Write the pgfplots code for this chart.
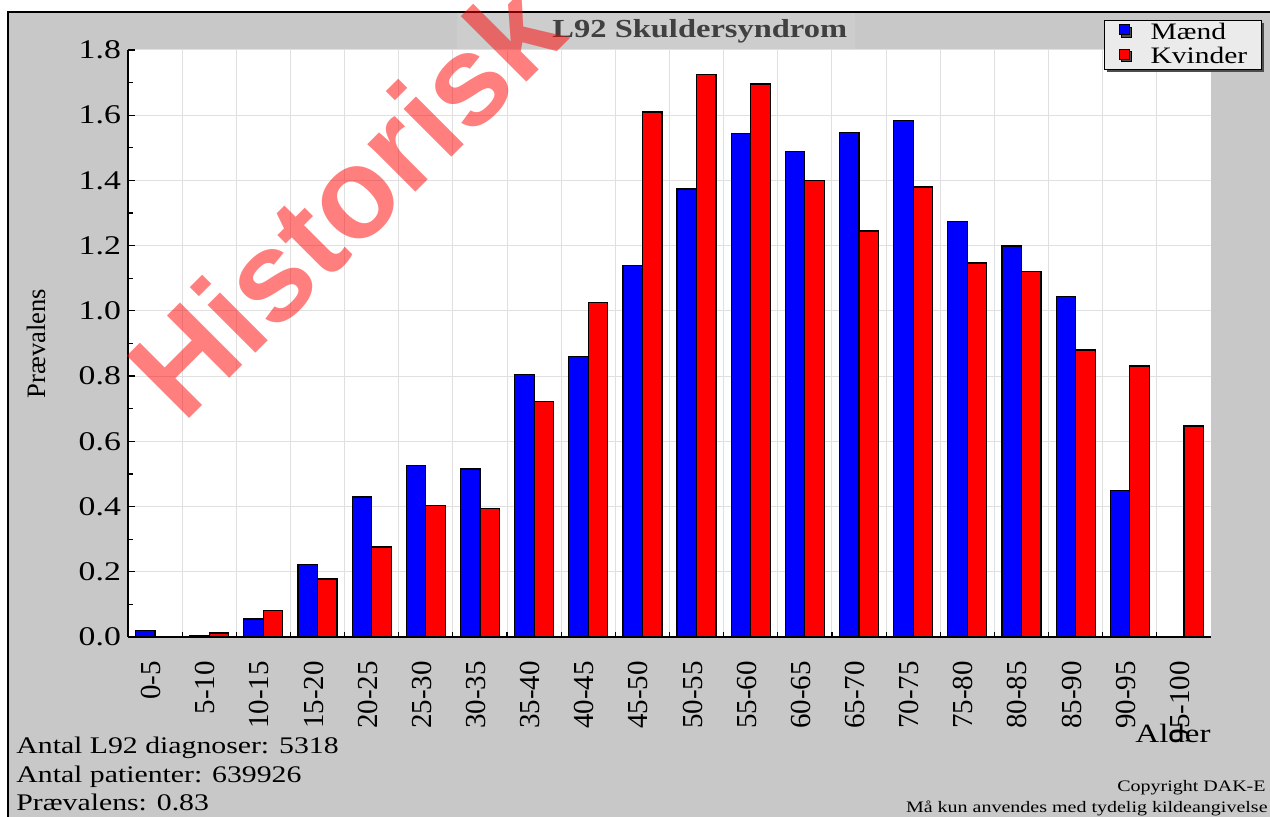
\documentclass[border=0pt]{standalone}
\usepackage{fontspec}
\setmainfont[FakeStretch=1.25]{Liberation Serif}
\newfontfamily\rotfont{Liberation Serif}
\newfontfamily\wmfont{Liberation Sans}
\usepackage{pgfplots}
\pgfplotsset{compat=1.18}
\usetikzlibrary{shadows}
\definecolor{bggray}{RGB}{200,200,200}
\definecolor{titlegray}{RGB}{205,205,205}
\definecolor{gridgray}{RGB}{224,224,224}
\definecolor{legendgray}{RGB}{235,235,235}
\definecolor{titletext}{RGB}{64,64,64}
\definecolor{mblue}{RGB}{0,0,255}
\definecolor{kred}{RGB}{255,0,0}
\begin{document}
\begin{tikzpicture}
\useasboundingbox (-64pt,-90pt) rectangle (571pt,318.5pt);
\fill[white] (-64pt,-90pt) rectangle (571pt,318.5pt);
\fill[bggray] (-60pt,-90pt) rectangle (571pt,312.5pt);
\fill[titlegray] (164.5pt,293.5pt) rectangle (363.5pt,312.5pt);
\draw[black, line width=0.9pt] (-60pt,-90pt) -- (-60pt,312.5pt) -- (571pt,312.5pt);
\begin{axis}[
  at={(0pt,0pt)}, anchor=south west,
  scale only axis, width=541.5pt, height=293.5pt,
  xmin=-0.5, xmax=19.5, ymin=0, ymax=1.8,
  axis x line*=bottom, axis y line*=left,
  axis line style={-, line width=0.8pt, black},
  every outer x axis line/.append style={-},
  every outer y axis line/.append style={-},
  axis background/.style={fill=white},
  ybar=0pt, bar width=9.75pt,
  xtick={0,...,19},
  xticklabels={0-5,5-10,10-15,15-20,20-25,25-30,30-35,35-40,40-45,45-50,50-55,55-60,60-65,65-70,70-75,75-80,80-85,85-90,90-95,95-100},
  major x tick style={draw=none},
  minor x tick num=1,
  xminorgrids=true,
  ytick={0,0.2,0.4,0.6,0.8,1.0,1.2,1.4,1.6,1.8},
  minor y tick num=1,
  ymajorgrids=true,
  grid style={draw=gridgray, line width=0.5pt},
  minor grid style={draw=gridgray, line width=0.5pt},
  tick align=inside,
  major tick length=3.5pt, minor tick length=2.5pt,
  tick style={black, line width=0.6pt},
  /pgf/number format/assume math mode=true,
  yticklabel style={font=\fontsize{13.5}{13.5}\selectfont, /pgf/number format/.cd, fixed, fixed zerofill, precision=1},
  xticklabel style={font=\rotfont\fontsize{14.5}{14.5}\selectfont, xshift=-2pt, rotate=90, anchor=east},
  xticklabel shift=8.5pt,
  ylabel={Prævalens},
  every axis y label/.style={at={(axis description cs:-0.085,0.5)}, anchor=center, rotate=90, font=\rotfont\fontsize{13.3}{13.3}\selectfont},
  xlabel={Alder},
  every axis x label/.style={at={(axis description cs:1,-0.1789)}, anchor=base east, inner xsep=0pt, font=\fontsize{13.2}{13.2}\selectfont},
  title={\bfseries L92 Skuldersyndrom},
  every axis title/.style={at={(axis description cs:0.528,1.031)}, anchor=center, text=titletext, font=\fontsize{13}{13}\selectfont},
  legend style={at={(axis description cs:0.9012,1.0511)}, anchor=north west, draw=black, fill=legendgray,
    line width=0.6pt,
    font=\fontsize{11.8}{11.8}\selectfont, inner xsep=7pt, inner ysep=0pt,
    nodes={inner sep=0pt, text height=9.25pt, text depth=3pt},
    /tikz/every odd column/.append style={column sep=10.5pt},
    drop shadow={shadow xshift=1.2pt, shadow yshift=-1.2pt, fill=black!70, opacity=1}},
  legend cell align=left,
  legend image code/.code={\draw[#1, draw=black, line width=0.5pt] (0pt,-1pt) rectangle (5pt,4pt);},
  every axis plot/.append style={draw=black, line width=0.6pt},
]
\addplot[fill=mblue] coordinates {
(0,0.020) (1,0.004) (2,0.055) (3,0.222) (4,0.429) (5,0.525) (6,0.515) (7,0.804) (8,0.859) (9,1.138)
(10,1.374) (11,1.543) (12,1.488) (13,1.546) (14,1.583) (15,1.273) (16,1.199) (17,1.043) (18,0.448) (19,0)};
\addplot[fill=kred] coordinates {
(0,0) (1,0.012) (2,0.081) (3,0.178) (4,0.276) (5,0.402) (6,0.393) (7,0.721) (8,1.025) (9,1.610)
(10,1.724) (11,1.696) (12,1.399) (13,1.245) (14,1.380) (15,1.147) (16,1.120) (17,0.880) (18,0.831) (19,0.647)};
\legend{Mænd,Kvinder}
\end{axis}
\node[anchor=base west, font=\fontsize{11.9}{11.9}\selectfont, inner sep=0pt] at (-56pt,-58.5pt) {Antal L92 diagnoser: 5318};
\node[anchor=base west, font=\fontsize{11.9}{11.9}\selectfont, inner sep=0pt] at (-56pt,-73pt) {Antal patienter: 639926};
\node[anchor=base west, font=\fontsize{11.9}{11.9}\selectfont, inner sep=0pt] at (-56pt,-87pt) {Prævalens: 0.83};
\node[anchor=east, font=\fontsize{8}{8}\selectfont, inner sep=0pt] at (569pt,-75.5pt) {Copyright DAK-E};
\node[anchor=east, font=\fontsize{8}{8}\selectfont, inner sep=0pt] at (570pt,-85.5pt) {Må kun anvendes med tydelig kildeangivelse};
\node[rotate=45, text=kred, text opacity=0.5, font=\wmfont\bfseries\fontsize{64}{64}\selectfont, inner sep=0pt] at (108.5pt,219pt) {Historisk};
\end{tikzpicture}
\end{document}
